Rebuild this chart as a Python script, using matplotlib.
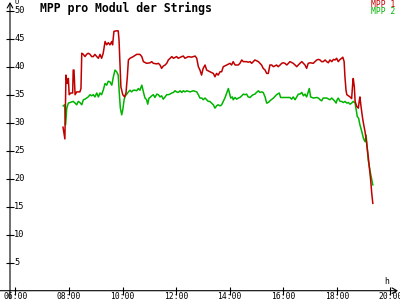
import matplotlib
matplotlib.use('Agg')
import matplotlib.pyplot as plt

# time of day (hours) and MPP voltage per module
t_mpp1 = [7.78, 7.85, 7.89, 7.94, 7.98, 8.01, 8.07, 8.14, 8.16, 8.19, 8.23, 8.29, 8.41, 8.45,
          8.48, 8.54, 8.60, 8.66, 8.72, 8.79, 8.85, 8.91, 8.97, 9.04, 9.10, 9.16, 9.22, 9.28,
          9.35, 9.41, 9.47, 9.53, 9.60, 9.63, 9.68, 9.76, 9.84, 9.87, 9.91, 9.94, 10.01, 10.08,
          10.13, 10.18, 10.22, 10.28, 10.40, 10.53, 10.65, 10.72, 10.78, 10.90, 11.03, 11.09,
          11.15, 11.28, 11.34, 11.40, 11.46, 11.52, 11.59, 11.65, 11.71, 11.84, 11.90, 12.02,
          12.08, 12.21, 12.27, 12.33, 12.46, 12.58, 12.71, 12.77, 12.83, 12.89, 12.95, 13.01,
          13.08, 13.14, 13.26, 13.39, 13.45, 13.51, 13.57, 13.64, 13.70, 13.76, 13.89, 14.01,
          14.07, 14.13, 14.20, 14.32, 14.38, 14.45, 14.51, 14.63, 14.69, 14.76, 14.82, 14.88,
          14.94, 15.07, 15.13, 15.19, 15.25, 15.32, 15.38, 15.44, 15.50, 15.57, 15.63, 15.75,
          15.81, 15.88, 15.94, 16.00, 16.06, 16.13, 16.19, 16.25, 16.37, 16.44, 16.50, 16.56,
          16.62, 16.69, 16.75, 16.81, 16.87, 16.93, 17.00, 17.12, 17.18, 17.25, 17.31, 17.37,
          17.43, 17.49, 17.56, 17.62, 17.68, 17.74, 17.81, 17.87, 17.93, 17.99, 18.05, 18.12,
          18.18, 18.22, 18.27, 18.30, 18.34, 18.37, 18.43, 18.49, 18.55, 18.59, 18.61, 18.65,
          18.68, 18.74, 18.80, 18.84, 18.86, 18.90, 18.95, 18.99, 19.05, 19.11, 19.17, 19.21,
          19.26, 19.30, 19.34]
mpp1 = [29.2, 27.1, 38.5, 37.0, 37.9, 35.0, 35.3, 35.3, 39.4, 39.4, 35.0, 35.5, 35.5, 36.1,
        42.4, 42.2, 41.8, 42.2, 42.4, 42.2, 41.8, 41.8, 42.2, 41.8, 41.5, 42.2, 41.5, 42.4,
        44.5, 43.9, 44.3, 43.9, 44.5, 43.9, 46.3, 46.4, 46.4, 44.8, 40.0, 36.4, 35.0, 34.6,
        35.3, 38.2, 41.2, 41.5, 41.8, 42.2, 42.2, 41.8, 40.9, 40.6, 40.7, 40.9,
        40.6, 40.5, 40.6, 40.3, 39.7, 40.1, 40.3, 40.6, 41.2, 41.8, 41.5, 41.8,
        41.5, 41.8, 41.9, 41.5, 41.8, 41.7, 41.9, 41.5, 40.0, 39.4, 38.5, 39.7,
        40.3, 39.4, 39.1, 38.8, 38.2, 38.8, 38.5, 39.1, 39.1, 40.0, 40.3, 40.6,
        40.3, 40.9, 40.3, 40.3, 40.6, 41.2, 40.9, 40.9, 40.8, 40.9, 40.6, 40.9,
        41.2, 40.9, 40.6, 40.3, 39.7, 39.4, 38.8, 38.8, 40.3, 40.3, 40.0, 40.3,
        40.0, 40.3, 40.6, 40.7, 40.6, 40.3, 40.6, 40.9, 40.6, 40.3, 40.0, 40.3,
        40.6, 40.9, 40.6, 40.3, 39.7, 40.6, 40.7, 40.6, 40.9, 41.2, 41.3, 41.2,
        40.9, 40.9, 41.2, 40.9, 40.7, 41.2, 40.9, 41.3, 41.2, 41.5, 40.9, 41.3,
        41.5, 41.7, 40.9, 38.2, 35.8, 35.0, 34.8, 34.6, 34.3, 37.0, 37.9, 36.4,
        33.8, 32.9, 32.6, 34.1, 34.6, 32.9, 31.1, 29.9, 28.4, 26.3, 23.9, 22.1,
        19.8, 17.4, 15.6]

t_mpp2 = [7.79, 7.84, 7.87, 7.89, 7.92, 7.98, 8.04, 8.16, 8.23, 8.29, 8.35, 8.41, 8.48, 8.54,
          8.60, 8.66, 8.72, 8.79, 8.85, 8.91, 8.97, 9.04, 9.10, 9.16, 9.22, 9.28, 9.35, 9.41,
          9.47, 9.53, 9.60, 9.66, 9.72, 9.78, 9.84, 9.88, 9.92, 9.97, 10.01, 10.06, 10.10,
          10.16, 10.22, 10.28, 10.34, 10.40, 10.47, 10.53, 10.59, 10.65, 10.72, 10.75, 10.80,
          10.84, 10.90, 10.94, 10.99, 11.03, 11.09, 11.15, 11.21, 11.28, 11.34, 11.40, 11.46,
          11.52, 11.59, 11.65, 11.71, 11.77, 11.84, 11.90, 11.96, 12.02, 12.08, 12.15, 12.21,
          12.27, 12.33, 12.40, 12.52, 12.64, 12.77, 12.83, 12.89, 12.96, 13.01, 13.08, 13.14,
          13.20, 13.26, 13.32, 13.39, 13.45, 13.51, 13.57, 13.64, 13.70, 13.76, 13.82, 13.89,
          13.95, 13.99, 14.04, 14.10, 14.13, 14.20, 14.26, 14.32, 14.38, 14.45, 14.51, 14.57,
          14.63, 14.69, 14.76, 14.82, 14.88, 14.94, 15.00, 15.07, 15.13, 15.19, 15.25, 15.32,
          15.38, 15.44, 15.50, 15.63, 15.75, 15.85, 15.90, 16.00, 16.13, 16.25, 16.31, 16.37,
          16.44, 16.50, 16.56, 16.62, 16.69, 16.75, 16.81, 16.87, 16.93, 16.97, 17.02, 17.12,
          17.25, 17.31, 17.37, 17.43, 17.49, 17.62, 17.74, 17.81, 17.87, 17.93, 17.97, 18.01,
          18.05, 18.12, 18.18, 18.24, 18.30, 18.37, 18.43, 18.49, 18.55, 18.61, 18.68, 18.71,
          18.76, 18.81, 18.86, 18.93, 18.99, 19.05, 19.09, 19.14, 19.17, 19.24, 19.30, 19.34]
mpp2 = [33.0, 33.2, 29.6, 30.5, 32.6, 33.5, 33.6, 33.8, 33.5, 33.2, 33.8, 33.6, 33.2, 34.1,
        34.2, 34.4, 34.6, 35.0, 34.8, 35.0, 34.6, 35.3, 34.6, 35.3, 35.0, 35.8, 37.0, 36.7,
        37.4, 37.3, 36.7, 38.2, 39.4, 39.1, 38.5, 35.3, 32.6, 31.4, 32.3, 34.1, 34.8,
        35.1, 35.5, 35.8, 35.5, 35.8, 35.8, 35.7, 36.1, 35.8, 36.7, 36.1, 35.1,
        34.4, 34.1, 33.3, 34.4, 34.5, 34.8, 35.0, 34.5, 35.1, 35.0, 34.6, 34.8,
        34.2, 34.6, 35.0, 35.0, 35.1, 35.3, 35.4, 35.7, 35.5, 35.4, 35.7, 35.4,
        35.7, 35.5, 35.7, 35.5, 35.7, 35.5, 35.0, 34.4, 34.4, 34.1, 34.4, 34.1,
        33.8, 33.8, 33.5, 33.2, 32.6, 33.0, 33.2, 33.0, 33.2, 33.8, 34.4, 35.3,
        36.1, 35.3, 34.4, 34.6, 34.1, 34.5, 34.2, 34.4, 34.5, 34.8, 35.1, 35.0,
        35.1, 34.6, 34.5, 34.8, 35.0, 35.1, 35.4, 35.7, 35.4, 35.5, 35.4, 34.6,
        33.5, 33.6, 33.9, 34.4, 35.0, 35.3, 34.5, 34.5, 34.5, 34.5, 34.2, 34.6,
        34.1, 34.6, 35.1, 35.1, 35.4, 34.8, 35.1, 34.6, 35.5, 36.1, 34.6, 34.4,
        34.5, 34.4, 34.1, 33.9, 34.4, 34.4, 34.1, 34.4, 34.1, 33.8, 33.5, 34.1,
        34.4, 33.8, 33.8, 33.6, 33.8, 33.5, 33.6, 33.3, 33.5, 33.8, 33.5, 32.6,
        31.1, 30.8, 29.6, 28.4, 27.2, 26.6, 27.8, 25.1, 23.3, 21.3, 19.8, 18.9]

x_ticks = [6, 8, 10, 12, 14, 16, 18, 20]
x_labels = ['06:00', '08:00', '10:00', '12:00', '14:00', '16:00', '18:00', '20:00']
y_ticks = [5, 10, 15, 20, 25, 30, 35, 40, 45, 50]

red = '#c00000'
green = '#00b400'
mono = 'DejaVu Sans Mono'

fig = plt.figure(figsize=(4, 3), dpi=100)
ax = fig.add_axes([10 / 400, 9.3 / 300, 388 / 400, 288.7 / 300])
ax.set_xlim(5.802, 20.28)
ax.set_ylim(0, 51.55)
for s in ax.spines.values():
    s.set_visible(False)
ax.set_xticks(x_ticks)
ax.set_yticks(y_ticks)
ax.tick_params(direction='inout', length=6, width=0.8, labelbottom=False, labelleft=False)

# axis lines with arrows
ax.annotate('', xy=(1.0, 0), xytext=(-10 / 388, 0), xycoords='axes fraction',
            arrowprops=dict(arrowstyle='->,head_length=0.35,head_width=0.2', lw=0.8, color='black',
                            shrinkA=0, shrinkB=0), annotation_clip=False)
ax.annotate('', xy=(0, 1.0), xytext=(0, -8 / 288.7), xycoords='axes fraction',
            arrowprops=dict(arrowstyle='->,head_length=0.35,head_width=0.2', lw=0.8, color='black',
                            shrinkA=0, shrinkB=0), annotation_clip=False)

for x, lab in zip(x_ticks, x_labels):
    ax.annotate(lab, xy=(x, 0), xycoords=('data', 'axes fraction'), xytext=(0, -4),
                textcoords='offset points', ha='center', va='center', family=mono, fontsize=5.8,
                annotation_clip=False)
for y in y_ticks:
    ax.annotate(str(y), xy=(0, y), xycoords=('axes fraction', 'data'), xytext=(3, 0),
                textcoords='offset points', ha='left', va='center', family=mono, fontsize=6.2)

ax.plot(t_mpp2, mpp2, color=green, lw=1.1)
ax.plot(t_mpp1, mpp1, color=red, lw=1.1)

fig.text(40 / 400, 1 - 8 / 300, 'MPP pro Modul der Strings', ha='left', va='center',
         family=mono, fontweight='bold', fontsize=8.3)
fig.text(395 / 400, 1 - 4.5 / 300, 'MPP 1', ha='right', va='center', family=mono,
         fontsize=5.8, color=red)
fig.text(395 / 400, 1 - 12 / 300, 'MPP 2', ha='right', va='center', family=mono,
         fontsize=5.8, color=green)
fig.text(14 / 400, 1 - 2.5 / 300, 'U', ha='left', va='center', family=mono, fontsize=5)
fig.text(387 / 400, 1 - 281 / 300, 'h', ha='center', va='center', family=mono, fontsize=5.8)

fig.savefig('out.png', dpi=100)
